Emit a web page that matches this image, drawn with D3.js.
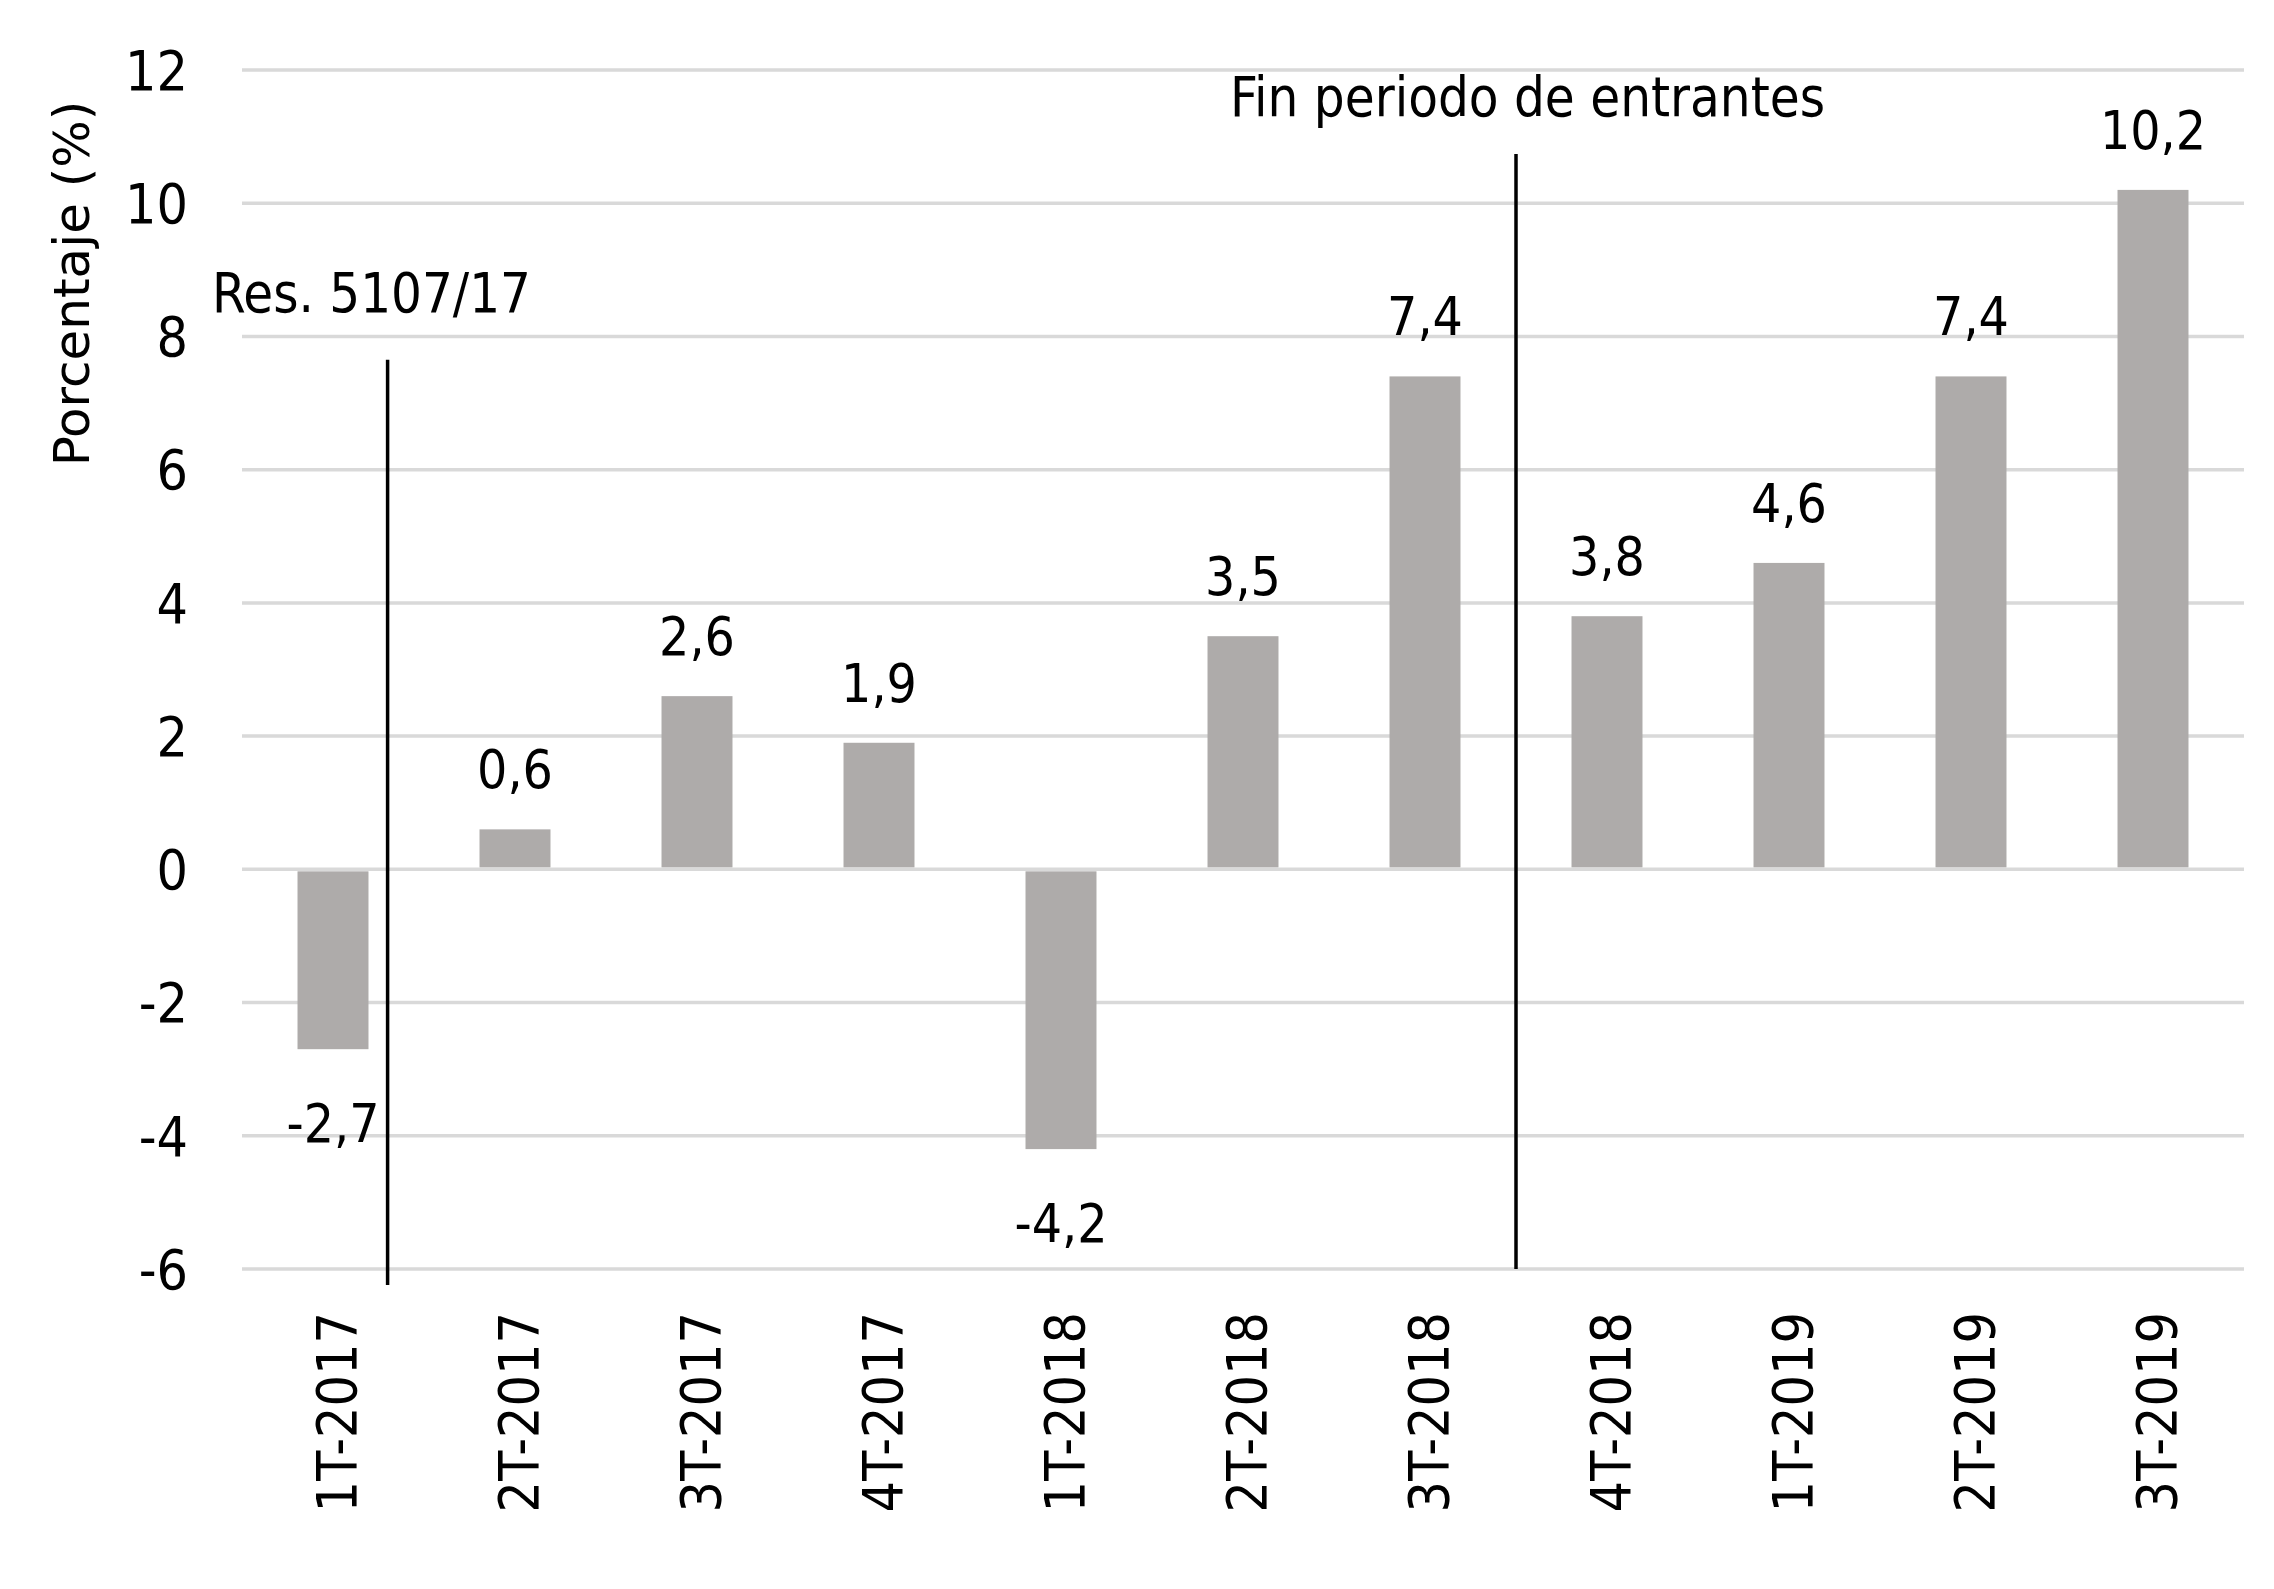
<!DOCTYPE html>
<html>
<head>
<meta charset="utf-8">
<script src="https://cdn.jsdelivr.net/npm/d3@7"></script>
<style>
  body { margin: 0; background: #fff; }
  text { font-family: "DejaVu Sans Condensed", "DejaVu Sans", Verdana, sans-serif; fill: #000; }
</style>
</head>
<body>
<script>
// chart data
const categories = ["1T-2017", "2T-2017", "3T-2017", "4T-2017", "1T-2018", "2T-2018",
                    "3T-2018", "4T-2018", "1T-2019", "2T-2019", "3T-2019"];
const values = [-2.7, 0.6, 2.6, 1.9, -4.2, 3.5, 7.4, 3.8, 4.6, 7.4, 10.2];
const yTicks = [-6, -4, -2, 0, 2, 4, 6, 8, 10, 12];
const yTitle = "Porcentaje (%)";
const notes = ["Res. 5107/17", "Fin periodo de entrantes"];

const w = 2274
const h = 1589

const svg = d3.select("body")
        .append("svg")
        .attr("width", w)
        .attr("height", h);

// scales
const x = d3.scaleBand()
        .domain(categories)
        .range([242, 2244])
        .paddingInner(0.61)
        .paddingOuter(0.305);

const y = d3.scaleLinear()
        .domain([-6, 12])
        .range([1269, 70]);

const fmt = v => d3.format(".1f")(v).replace(".", ",").replace("−", "-");

// gridlines
svg.append("g")
    .selectAll("line")
    .data(yTicks)
    .enter()
    .append("line")
    .attr("x1", 242)
    .attr("x2", 2244)
    .attr("y1", d => y(d))
    .attr("y2", d => y(d))
    .attr("stroke", "#d9d9d9")
    .attr("stroke-width", 3.5);

// y tick labels
svg.append("g")
    .selectAll("text")
    .data(yTicks)
    .enter()
    .append("text")
    .attr("x", 188)
    .attr("y", d => y(d))
    .attr("dy", "0.36em")
    .attr("text-anchor", "end")
    .attr("font-size", 55)
    .text(d => d);

// y title
svg.append("text")
    .attr("transform", `translate(89,${(99 + 468) / 2}) rotate(-90)`)
    .attr("text-anchor", "middle")
    .attr("font-size", 50)
    .style("font-family", "'DejaVu Sans', Verdana, sans-serif")
    .text(yTitle);

// bars
svg.append("g")
    .selectAll("rect")
    .data(values)
    .enter()
    .append("rect")
    .attr("x", (d, i) => x(categories[i]))
    .attr("width", x.bandwidth())
    .attr("y", d => d >= 0 ? y(d) : y(0) + 2)
    .attr("height", d => d >= 0 ? y(0) - y(d) - 2 : y(d) - y(0) - 2)
    .attr("fill", "#aeabaa");

// value labels
svg.append("g")
    .selectAll("text")
    .data(values)
    .enter()
    .append("text")
    .attr("x", (d, i) => x(categories[i]) + x.bandwidth() / 2)
    .attr("y", d => d >= 0 ? y(d) - 41 : y(d) + 93)
    .attr("text-anchor", "middle")
    .attr("font-size", 53)
    .text(d => fmt(d));

// x labels, rotated
svg.append("g")
    .selectAll("text")
    .data(categories)
    .enter()
    .append("text")
    .attr("transform", d => `translate(${x(d) + x.bandwidth() / 2 + 3},1312) rotate(-90)`)
    .attr("dy", "0.36em")
    .attr("text-anchor", "end")
    .attr("font-size", 55)
    .text(d => d);

// vertical marker lines
const line1x = x(categories[0]) + x.bandwidth() / 2 + x.step() * 0.3;
const line2x = (x(categories[6]) + x(categories[7]) + x.bandwidth()) / 2;

svg.append("line")
    .attr("x1", line1x).attr("x2", line1x)
    .attr("y1", y(7.65)).attr("y2", y(-6.24))
    .attr("stroke", "#000").attr("stroke-width", 3.5);

svg.append("line")
    .attr("x1", line2x).attr("x2", line2x)
    .attr("y1", y(10.74)).attr("y2", y(-6))
    .attr("stroke", "#000").attr("stroke-width", 3.5);

// annotations
svg.append("text")
    .attr("x", 212)
    .attr("y", y(8.37))
    .attr("font-size", 55)
    .attr("textLength", 319)
    .attr("lengthAdjust", "spacingAndGlyphs")
    .text(notes[0]);

svg.append("text")
    .attr("x", 1230)
    .attr("y", y(11.31))
    .attr("font-size", 56)
    .attr("textLength", 595)
    .attr("lengthAdjust", "spacingAndGlyphs")
    .text(notes[1]);
</script>
</body>
</html>
